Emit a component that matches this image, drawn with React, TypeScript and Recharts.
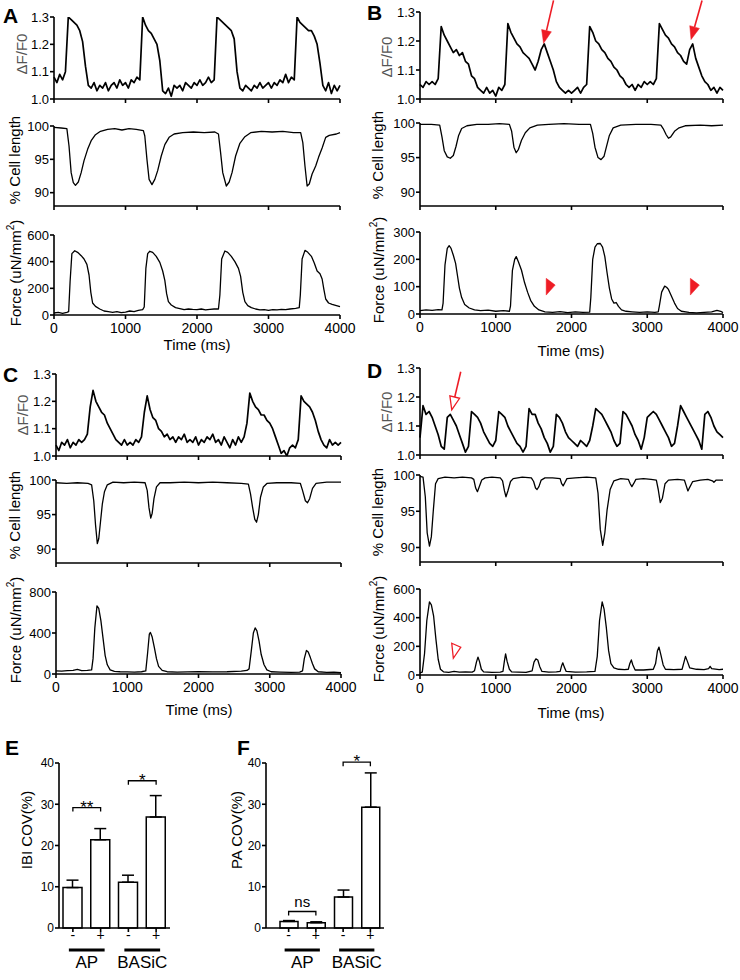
import React from "react";
import {
  Bar,
  BarChart,
  ErrorBar,
  Line,
  LineChart,
  ReferenceDot,
  XAxis,
  YAxis,
} from "recharts";

const SANS = '"Liberation Sans", Arial, Helvetica, sans-serif';
const NARROW = '"Liberation Sans Narrow", "Liberation Sans", Arial, sans-serif';
const RED = "#ee1c25";

const STEP_MS = 40;
const timeTicks = [0, 1000, 2000, 3000, 4000];

const dffA = [
  1.08, 1.06, 1.09, 1.07, 1.1, 1.3, 1.29, 1.28, 1.27, 1.25,
  1.21, 1.12, 1.05, 1.04, 1.06, 1.03, 1.05, 1.04, 1.06, 1.03,
  1.05, 1.06, 1.04, 1.07, 1.05, 1.06, 1.04, 1.07, 1.06, 1.08,
  1.07, 1.3, 1.27, 1.25, 1.24, 1.22, 1.2, 1.14, 1.03, 1.02,
  1.04, 1.01, 1.05, 1.04, 1.05, 1.03, 1.06, 1.05, 1.04, 1.06,
  1.05, 1.07, 1.05, 1.06, 1.08, 1.06, 1.07, 1.3, 1.29, 1.28,
  1.27, 1.26, 1.25, 1.22, 1.1, 1.04, 1.03, 1.05, 1.04, 1.03,
  1.05, 1.04, 1.06, 1.04, 1.05, 1.06, 1.04, 1.06, 1.05, 1.07,
  1.06, 1.09, 1.06, 1.08, 1.07, 1.3, 1.28, 1.27, 1.26, 1.25,
  1.25, 1.23, 1.2, 1.13, 1.05, 1.03, 1.06, 1.02, 1.05, 1.03,
  1.05,
];

const dffB = [
  1.05, 1.04, 1.06, 1.05, 1.06, 1.05, 1.07, 1.25, 1.22, 1.2,
  1.18, 1.16, 1.17, 1.15, 1.16, 1.13, 1.12, 1.08, 1.07, 1.04,
  1.03, 1.02, 1.04, 1.02, 1.03, 1.01, 1.04, 1.03, 1.05, 1.26,
  1.23, 1.21, 1.19, 1.18, 1.16, 1.15, 1.14, 1.12, 1.1, 1.13,
  1.17, 1.19, 1.16, 1.13, 1.1, 1.06, 1.04, 1.03, 1.02, 1.03,
  1.02, 1.03, 1.04, 1.02, 1.04, 1.05, 1.25, 1.23, 1.2, 1.19,
  1.17, 1.16, 1.14, 1.13, 1.11, 1.1, 1.08, 1.07, 1.05, 1.04,
  1.05, 1.03, 1.05, 1.04, 1.06, 1.05, 1.06, 1.05, 1.07, 1.26,
  1.24, 1.22, 1.21, 1.19, 1.18, 1.16, 1.15, 1.13, 1.12, 1.17,
  1.19, 1.14, 1.11, 1.08, 1.06, 1.05, 1.03, 1.04, 1.02, 1.04,
  1.03,
];

const dffC = [
  1.04, 1.02, 1.05, 1.04, 1.06, 1.03, 1.05, 1.04, 1.06, 1.05,
  1.06, 1.08, 1.18, 1.24, 1.2, 1.18, 1.16, 1.15, 1.12, 1.1,
  1.08, 1.06, 1.05, 1.04, 1.06, 1.04, 1.05, 1.04, 1.06, 1.05,
  1.07, 1.16, 1.22, 1.17, 1.14, 1.13, 1.1, 1.09, 1.07, 1.08,
  1.06, 1.07, 1.05, 1.07, 1.06, 1.08, 1.05, 1.06, 1.05, 1.07,
  1.04, 1.06, 1.05, 1.07, 1.06, 1.08, 1.05, 1.06, 1.04, 1.07,
  1.05, 1.03, 1.06, 1.04, 1.07, 1.05, 1.07, 1.12, 1.23, 1.2,
  1.18, 1.17, 1.15, 1.15, 1.13, 1.12, 1.1, 1.07, 1.04, 1.01,
  1.02, 1.0, 1.03, 1.04, 1.03, 1.06, 1.22, 1.2, 1.19, 1.18,
  1.16, 1.13, 1.09, 1.06, 1.04, 1.03, 1.06, 1.04, 1.05, 1.04,
  1.05,
];

const dffD = [
  1.06, 1.17, 1.14, 1.15, 1.13, 1.1, 1.07, 1.03, 1.02, 1.13,
  1.14, 1.12, 1.1, 1.07, 1.04, 1.01, 1.03, 1.15, 1.14, 1.13,
  1.11, 1.08, 1.06, 1.04, 1.03, 1.05, 1.15, 1.14, 1.13, 1.1,
  1.08, 1.06, 1.04, 1.03, 1.01, 1.03, 1.16, 1.14, 1.14, 1.11,
  1.09, 1.06, 1.04, 1.01, 1.03, 1.14, 1.13, 1.11, 1.08, 1.06,
  1.05, 1.04, 1.03, 1.05, 1.04, 1.03, 1.05, 1.1, 1.16, 1.15,
  1.14, 1.12, 1.1, 1.08, 1.05, 1.03, 1.04, 1.15, 1.14, 1.12,
  1.1, 1.07, 1.05, 1.02, 1.06, 1.13, 1.14, 1.15, 1.14, 1.12,
  1.1, 1.08, 1.06, 1.03, 1.04, 1.1, 1.17, 1.15, 1.13, 1.11,
  1.09, 1.07, 1.05, 1.02, 1.14, 1.15, 1.13, 1.1, 1.08, 1.07,
  1.06,
];

// [time ms, % cell length]
const cellA: [number, number][] = [
  [0, 99.8], [100, 99.7], [180, 99.6], [210, 97], [240, 93], [270, 91.5], [300, 91.1],
  [340, 91.6], [380, 93], [420, 94.8], [470, 96.5], [520, 97.8], [580, 98.7], [650, 99.2],
  [750, 99.5], [850, 99.6], [950, 99.4], [1050, 99.6], [1150, 99.5], [1250, 99.3],
  [1270, 98.5], [1300, 95], [1330, 92], [1370, 91.2], [1410, 92], [1450, 93.3], [1500, 95.5],
  [1550, 97.2], [1610, 98.3], [1680, 98.8], [1800, 99], [1950, 99.1], [2100, 99], [2250, 99.1],
  [2300, 98.8], [2330, 96], [2360, 93], [2410, 91], [2450, 91.6], [2490, 93], [2540, 95.5],
  [2600, 97.4], [2670, 98.4], [2750, 99], [2900, 99.2], [3050, 99.1], [3200, 99.2], [3350, 99],
  [3450, 99], [3480, 97.5], [3510, 94], [3540, 91], [3570, 91.3], [3610, 92.8], [3660, 94],
  [3700, 95.3], [3750, 96.7], [3800, 98.3], [3850, 98.6], [3950, 98.8], [4000, 99],
];

const cellB: [number, number][] = [
  [0, 99.8], [150, 99.8], [260, 99.7], [290, 98], [320, 96], [360, 95.1], [400, 94.9],
  [440, 95.3], [475, 96.6], [510, 98.2], [550, 99.2], [620, 99.6], [750, 99.8], [900, 99.8],
  [1050, 99.9], [1180, 99.8], [1210, 98.8], [1240, 96.5], [1270, 95.7], [1300, 96.2],
  [1340, 97.5], [1390, 98.6], [1450, 99.3], [1550, 99.7], [1700, 99.8], [1900, 99.9],
  [2100, 99.8], [2250, 99.8], [2280, 98.5], [2310, 96.5], [2350, 95], [2390, 94.7],
  [2430, 95.2], [2460, 96.5], [2500, 98.2], [2550, 99.3], [2650, 99.7], [2850, 99.8],
  [3050, 99.8], [3180, 99.7], [3210, 99.2], [3250, 98.3], [3280, 97.8], [3310, 98],
  [3360, 98.8], [3420, 99.3], [3500, 99.6], [3700, 99.7], [3850, 99.6], [4000, 99.7],
];

const cellC: [number, number][] = [
  [0, 99.6], [150, 99.5], [300, 99.6], [450, 99.5], [500, 99.3], [530, 97], [555, 93.5],
  [580, 90.8], [600, 91.5], [625, 94], [650, 96.5], [680, 98.3], [720, 99.3], [800, 99.7],
  [950, 99.6], [1100, 99.7], [1250, 99.6], [1280, 98.5], [1305, 96], [1330, 94.5],
  [1350, 95.2], [1375, 97.3], [1410, 99], [1460, 99.6], [1600, 99.6], [1800, 99.7],
  [2000, 99.6], [2200, 99.7], [2400, 99.6], [2600, 99.5], [2700, 99.4], [2730, 98],
  [2760, 96], [2790, 94.3], [2815, 93.9], [2840, 95], [2870, 97.5], [2910, 99], [2960, 99.5],
  [3100, 99.6], [3300, 99.6], [3430, 99.5], [3460, 98.5], [3500, 97], [3530, 96.7],
  [3560, 97.3], [3600, 98.8], [3650, 99.5], [3800, 99.7], [4000, 99.7],
];

const cellD: [number, number][] = [
  [0, 99.8], [40, 99.7], [70, 97], [95, 92], [125, 90.2], [150, 91.5], [175, 95], [205, 98.8],
  [240, 99.5], [330, 99.7], [450, 99.6], [560, 99.7], [680, 99.6], [710, 99.4], [735, 98.2],
  [758, 97.7], [780, 98.3], [815, 99.3], [860, 99.6], [950, 99.7], [1060, 99.6], [1090, 99.2],
  [1115, 97.8], [1135, 97], [1160, 97.8], [1195, 99.1], [1230, 99.5], [1350, 99.7],
  [1470, 99.6], [1500, 99.1], [1525, 98.2], [1545, 98], [1570, 98.4], [1600, 99.3],
  [1650, 99.6], [1750, 99.6], [1850, 99.5], [1870, 98.8], [1890, 98.5], [1910, 98.9],
  [1940, 99.5], [2050, 99.6], [2200, 99.7], [2320, 99.6], [2350, 97.5], [2380, 92.5],
  [2412, 90.3], [2440, 92], [2470, 95.2], [2510, 98], [2560, 99.2], [2650, 99.5],
  [2750, 99.4], [2775, 98.8], [2797, 98.4], [2820, 98.8], [2850, 99.4], [2950, 99.5],
  [3050, 99.4], [3120, 99.3], [3145, 98], [3172, 96.2], [3200, 96.8], [3235, 98.8],
  [3280, 99.3], [3400, 99.4], [3490, 99.3], [3515, 98.5], [3537, 97.8], [3560, 98.3],
  [3600, 99.1], [3700, 99.3], [3800, 99.4], [3860, 99.2], [3880, 99], [3910, 99.3], [4000, 99.3],
];

// [time ms, force uN/mm2]
const forceA: [number, number][] = [
  [0, 15], [60, 20], [120, 12], [180, 20], [205, 25], [225, 250], [250, 460], [290, 482],
  [330, 470], [380, 445], [420, 420], [460, 380], [490, 300], [515, 170], [540, 90], [580, 65],
  [640, 45], [700, 30], [760, 25], [820, 20], [880, 25], [940, 18], [1000, 22], [1060, 30],
  [1120, 25], [1180, 35], [1240, 40], [1262, 60], [1285, 350], [1310, 460], [1340, 478],
  [1380, 470], [1430, 440], [1480, 395], [1520, 330], [1550, 260], [1575, 160], [1600, 100],
  [1640, 75], [1700, 55], [1760, 48], [1820, 40], [1880, 45], [1940, 42], [2000, 40],
  [2060, 45], [2120, 38], [2180, 42], [2240, 45], [2300, 45], [2320, 150], [2345, 420],
  [2390, 480], [2430, 470], [2480, 440], [2530, 400], [2580, 350], [2610, 290], [2640, 170],
  [2670, 100], [2710, 70], [2760, 55], [2820, 45], [2880, 38], [2940, 40], [3000, 35],
  [3060, 40], [3120, 38], [3180, 42], [3240, 40], [3300, 45], [3380, 50], [3430, 55],
  [3445, 150], [3470, 420], [3510, 485], [3550, 470], [3600, 440], [3640, 390], [3680, 330],
  [3720, 310], [3750, 270], [3775, 190], [3800, 120], [3840, 90], [3890, 80], [3950, 70],
  [4000, 62],
];

const forceB: [number, number][] = [
  [0, 12], [80, 15], [160, 13], [240, 16], [290, 15], [305, 40], [330, 180], [360, 240],
  [385, 250], [410, 240], [440, 215], [470, 185], [495, 140], [520, 95], [550, 60], [590, 35],
  [650, 22], [720, 15], [800, 12], [900, 14], [1000, 10], [1100, 12], [1180, 10], [1195, 30],
  [1220, 160], [1250, 200], [1270, 210], [1300, 190], [1340, 160], [1380, 115], [1420, 80],
  [1460, 50], [1510, 28], [1570, 15], [1650, 8], [1750, 6], [1850, 9], [1950, 5], [2050, 8],
  [2150, 6], [2240, 7], [2255, 60], [2280, 200], [2310, 245], [2340, 257], [2380, 258],
  [2410, 245], [2440, 210], [2470, 150], [2500, 95], [2530, 55], [2560, 40], [2590, 42],
  [2620, 28], [2660, 15], [2720, 10], [2800, 8], [2900, 6], [3000, 8], [3100, 6], [3145, 8],
  [3160, 30], [3190, 80], [3230, 102], [3255, 98], [3280, 90], [3320, 65], [3360, 40],
  [3400, 20], [3450, 10], [3550, 6], [3650, 4], [3750, 6], [3850, 8], [3920, 13], [3970, 10],
  [4000, 5],
];

const forceC: [number, number][] = [
  [0, 30], [80, 28], [160, 32], [240, 35], [300, 45], [360, 32], [440, 35], [500, 40],
  [520, 150], [545, 450], [575, 665], [600, 640], [630, 520], [660, 350], [690, 180],
  [720, 90], [760, 40], [820, 25], [900, 22], [1000, 20], [1100, 18], [1200, 22], [1260, 30],
  [1285, 200], [1310, 390], [1325, 405], [1350, 360], [1380, 260], [1410, 150], [1440, 75],
  [1490, 35], [1560, 22], [1700, 18], [1850, 20], [2000, 22], [2200, 20], [2400, 22],
  [2600, 28], [2680, 35], [2710, 50], [2740, 220], [2770, 400], [2795, 450], [2820, 420],
  [2850, 320], [2880, 190], [2920, 90], [2960, 40], [3020, 22], [3150, 18], [3300, 15],
  [3420, 18], [3460, 30], [3485, 150], [3515, 230], [3540, 215], [3570, 160], [3600, 100],
  [3630, 50], [3680, 22], [3800, 15], [3900, 18], [4000, 12],
];

const forceD: [number, number][] = [
  [0, 15], [30, 20], [60, 150], [90, 380], [125, 510], [150, 490], [180, 410], [210, 250],
  [240, 110], [270, 40], [310, 22], [380, 18], [450, 25], [520, 20], [600, 22], [690, 20],
  [720, 30], [745, 90], [765, 125], [785, 95], [810, 40], [840, 22], [950, 18], [1060, 20],
  [1095, 25], [1115, 100], [1130, 148], [1150, 95], [1180, 40], [1210, 22], [1300, 20],
  [1400, 18], [1480, 28], [1505, 90], [1530, 112], [1555, 105], [1580, 60], [1610, 25],
  [1700, 20], [1800, 22], [1850, 25], [1870, 65], [1885, 85], [1905, 55], [1930, 25],
  [2050, 20], [2200, 22], [2310, 25], [2340, 130], [2370, 380], [2405, 510], [2430, 460],
  [2460, 330], [2490, 170], [2520, 80], [2560, 50], [2620, 40], [2700, 38], [2750, 40],
  [2770, 80], [2790, 105], [2810, 70], [2840, 35], [2950, 35], [3080, 40], [3110, 80],
  [3135, 170], [3155, 195], [3180, 140], [3210, 70], [3240, 40], [3350, 38], [3460, 40],
  [3485, 90], [3505, 130], [3530, 95], [3560, 50], [3650, 40], [3750, 38], [3810, 45],
  [3830, 60], [3850, 45], [3950, 38], [4000, 40],
];

// bar panels E and F
const barCats = ["AP -", "AP +", "BASiC -", "BASiC +"];
const ibiMean = [9.8, 21.4, 11.1, 26.9];
const ibiSem = [1.8, 2.7, 1.7, 5.2];
const paMean = [1.6, 1.3, 7.5, 29.3];
const paSem = [0.2, 0.2, 1.7, 8.3];
const covTicks = [0, 10, 20, 30, 40];

const fromSamples = (vals: number[]) => vals.map((v, i) => ({ t: i * STEP_MS, v }));
const fromPairs = (pairs: [number, number][]) => pairs.map(([t, v]) => ({ t, v }));

const AXIS = { stroke: "#000", strokeWidth: 1.6 };
const Y_W = 44;
const TOP = 16;
const RIGHT = 24;

type Box = { x: number; y: number; w: number; h: number };

function Trace({
  box,
  data,
  domain,
  ticks,
  digits = 0,
  timeAxis = false,
  lineWidth = 1.3,
  children,
}: {
  box: Box;
  data: { t: number; v: number }[];
  domain: [number, number];
  ticks: number[];
  digits?: number;
  timeAxis?: boolean;
  lineWidth?: number;
  children?: React.ReactNode;
}) {
  const xh = timeAxis ? 26 : 12;
  return (
    <div style={{ position: "absolute", left: box.x - Y_W, top: box.y - TOP }}>
      <LineChart
        width={Y_W + box.w + RIGHT}
        height={TOP + box.h + xh}
        data={data}
        margin={{ top: TOP, right: RIGHT, bottom: 0, left: 0 }}
      >
        <XAxis
          dataKey="t"
          type="number"
          domain={[0, 4000]}
          ticks={timeTicks}
          interval={0}
          height={xh}
          axisLine={AXIS}
          tickLine={AXIS}
          tickSize={4}
          tickMargin={4}
          tick={{ fill: "#000", fontSize: 14, fontFamily: SANS }}
          tickFormatter={(v) => (timeAxis ? String(v) : "")}
        />
        <YAxis
          type="number"
          domain={domain}
          ticks={ticks}
          interval={0}
          allowDataOverflow
          width={Y_W}
          axisLine={AXIS}
          tickLine={AXIS}
          tickSize={4}
          tickMargin={1}
          tick={{ fill: "#000", fontSize: 13, fontFamily: NARROW }}
          tickFormatter={(v) => Number(v).toFixed(digits)}
        />
        <Line
          dataKey="v"
          type="linear"
          stroke="#000"
          strokeWidth={lineWidth}
          strokeLinejoin="round"
          dot={false}
          isAnimationActive={false}
        />
        {children}
      </LineChart>
    </div>
  );
}

// arrow whose tip sits on the data point, tail offset by (dx, dy) pixels
function arrowShape(dx: number, dy: number, hollow: boolean) {
  return (p: any) => {
    const { cx, cy } = p;
    const len = Math.hypot(dx, dy);
    const ux = dx / len;
    const uy = dy / len;
    const bx = cx + ux * 13;
    const by = cy + uy * 13;
    const nx = -uy * 5;
    const ny = ux * 5;
    return (
      <g>
        <line x1={cx + dx} y1={cy + dy} x2={bx} y2={by} stroke={RED} strokeWidth={1.6} />
        <polygon
          points={`${cx},${cy} ${bx + nx},${by + ny} ${bx - nx},${by - ny}`}
          fill={hollow ? "#fff" : RED}
          stroke={RED}
          strokeWidth={hollow ? 1.3 : 0.5}
        />
      </g>
    );
  };
}

function flagShape(hollow: boolean) {
  return (p: any) => {
    const { cx, cy } = p;
    const pts = hollow
      ? `${cx},${cy - 7.5} ${cx + 9},${cy - 3.5} ${cx + 1.6},${cy + 7.5}`
      : `${cx},${cy - 8.3} ${cx + 9},${cy - 1.6} ${cx},${cy + 8.4}`;
    return (
      <polygon
        points={pts}
        fill={hollow ? "#fff" : RED}
        stroke={RED}
        strokeWidth={hollow ? 1.3 : 0.5}
      />
    );
  };
}

function bracketShape(span: number, label: string) {
  return (p: any) => {
    const { cx, cy } = p;
    const ns = label === "ns";
    return (
      <g>
        <path
          d={`M${cx},${cy + 4} V${cy} H${cx + span} V${cy + 4}`}
          fill="none"
          stroke="#000"
          strokeWidth={1.3}
        />
        <text
          x={cx + span / 2}
          y={ns ? cy - 5 : cy + 5}
          textAnchor="middle"
          fontSize={ns ? 15 : 17}
          fontFamily={SANS}
          fill="#000"
        >
          {label}
        </text>
      </g>
    );
  };
}

function GroupTick(props: any) {
  const { x, y, payload, index, band } = props;
  const [group, sign] = String(payload.value).split(" ");
  return (
    <g>
      <text x={x} y={y + 7} textAnchor="middle" fontSize={14} fontFamily={SANS} fill="#000" stroke="none">
        {sign}
      </text>
      {index % 2 === 0 && (
        <>
          <line x1={x - 4} x2={x + band + 4} y1={y + 17} y2={y + 17} stroke="#000" strokeWidth={3} />
          <text
            x={x + band / 2}
            y={y + 35}
            textAnchor="middle"
            fontSize={17}
            fontFamily={NARROW}
            fill="#000"
            stroke="none"
          >
            {group}
          </text>
        </>
      )}
    </g>
  );
}

function CovBars({
  box,
  mean,
  sem,
  padLeft,
  barSize,
  brackets,
}: {
  box: Box;
  mean: number[];
  sem: number[];
  padLeft: number;
  barSize: number;
  brackets: { from: number; level: number; label: string }[];
}) {
  const data = barCats.map((cat, i) => ({ cat, v: mean[i], err: [0, sem[i]] }));
  const band = (box.w - padLeft) / barCats.length;
  return (
    <div style={{ position: "absolute", left: box.x - Y_W, top: box.y - TOP }}>
      <BarChart
        width={Y_W + box.w + RIGHT}
        height={TOP + box.h + 52}
        data={data}
        margin={{ top: TOP, right: RIGHT, bottom: 0, left: 0 }}
        barCategoryGap={0}
      >
        <XAxis
          dataKey="cat"
          height={52}
          interval={0}
          padding={{ left: padLeft, right: 0 }}
          axisLine={AXIS}
          tickLine={AXIS}
          tickSize={4}
          tickMargin={1}
          tick={(p: any) => <GroupTick {...p} band={band} />}
        />
        <YAxis
          type="number"
          domain={[0, 40]}
          ticks={covTicks}
          interval={0}
          width={Y_W}
          axisLine={AXIS}
          tickLine={AXIS}
          tickSize={4}
          tickMargin={1}
          tick={{ fill: "#000", fontSize: 12, fontFamily: NARROW }}
        />
        <Bar
          dataKey="v"
          fill="#fff"
          stroke="#000"
          strokeWidth={1.5}
          barSize={barSize}
          isAnimationActive={false}
        >
          <ErrorBar dataKey="err" width={6} stroke="#000" strokeWidth={1.5} direction="y" />
        </Bar>
        {brackets.map((b) => (
          <ReferenceDot
            key={b.label + b.from}
            x={barCats[b.from]}
            y={b.level}
            ifOverflow="visible"
            shape={bracketShape(band, b.label)}
          />
        ))}
      </BarChart>
    </div>
  );
}

function VText({
  x,
  y,
  children,
  color = "#000",
  size = 15,
}: {
  x: number;
  y: number;
  children: React.ReactNode;
  color?: string;
  size?: number;
}) {
  return (
    <text
      transform={`translate(${x},${y}) rotate(-90)`}
      textAnchor="middle"
      dominantBaseline="central"
      fill={color}
      fontSize={size}
      fontFamily={NARROW}
    >
      {children}
    </text>
  );
}

const forceTitle = (
  <>
    Force (uN/mm
    <tspan dy={-5} fontSize={10}>
      2
    </tspan>
    <tspan dy={5}>)</tspan>
  </>
);

const DFF = [1, 1.1, 1.2, 1.3];

export default function App() {
  return (
    <div
      style={{
        position: "absolute",
        left: 0,
        top: 0,
        width: 740,
        height: 980,
        background: "#fff",
        fontFamily: SANS,
      }}
    >
      {/* A */}
      <Trace box={{ x: 54, y: 17, w: 286, h: 82 }} data={fromSamples(dffA)} domain={[1, 1.3]} ticks={DFF} digits={1} lineWidth={1.7} />
      <Trace box={{ x: 54, y: 126, w: 286, h: 80 }} data={fromPairs(cellA)} domain={[88, 100]} ticks={[90, 95, 100]} />
      <Trace box={{ x: 54, y: 235, w: 286, h: 80 }} data={fromPairs(forceA)} domain={[0, 600]} ticks={[0, 200, 400, 600]} timeAxis />

      {/* B */}
      <Trace box={{ x: 420, y: 12, w: 303, h: 87 }} data={fromSamples(dffB)} domain={[1, 1.3]} ticks={DFF} digits={1} lineWidth={1.7}>
        <ReferenceDot x={1631} y={1.192} ifOverflow="visible" shape={arrowShape(10, -43, false)} />
        <ReferenceDot x={3578} y={1.205} ifOverflow="visible" shape={arrowShape(11, -39, false)} />
      </Trace>
      <Trace box={{ x: 420, y: 123, w: 303, h: 83 }} data={fromPairs(cellB)} domain={[88, 100]} ticks={[90, 95, 100]} />
      <Trace box={{ x: 420, y: 232, w: 303, h: 82 }} data={fromPairs(forceB)} domain={[0, 300]} ticks={[0, 100, 200, 300]} timeAxis>
        <ReferenceDot x={1666} y={100} ifOverflow="visible" shape={flagShape(false)} />
        <ReferenceDot x={3569} y={100} ifOverflow="visible" shape={flagShape(false)} />
      </Trace>

      {/* C */}
      <Trace box={{ x: 56, y: 374, w: 285, h: 82 }} data={fromSamples(dffC)} domain={[1, 1.3]} ticks={DFF} digits={1} lineWidth={1.7} />
      <Trace box={{ x: 56, y: 480, w: 285, h: 83 }} data={fromPairs(cellC)} domain={[88, 100]} ticks={[90, 95, 100]} />
      <Trace box={{ x: 56, y: 592, w: 285, h: 82 }} data={fromPairs(forceC)} domain={[0, 800]} ticks={[0, 400, 800]} timeAxis />

      {/* D */}
      <Trace box={{ x: 420, y: 368, w: 303, h: 87 }} data={fromSamples(dffD)} domain={[1, 1.3]} ticks={DFF} digits={1} lineWidth={1.7}>
        <ReferenceDot x={419} y={1.156} ifOverflow="visible" shape={arrowShape(9, -38, true)} />
      </Trace>
      <Trace box={{ x: 420, y: 475, w: 303, h: 87 }} data={fromPairs(cellD)} domain={[88, 100]} ticks={[90, 95, 100]} />
      <Trace box={{ x: 420, y: 589, w: 303, h: 86 }} data={fromPairs(forceD)} domain={[0, 600]} ticks={[0, 200, 400, 600]} timeAxis>
        <ReferenceDot x={419} y={169} ifOverflow="visible" shape={flagShape(true)} />
      </Trace>

      {/* E, F */}
      <CovBars
        box={{ x: 59, y: 763, w: 111, h: 165 }}
        mean={ibiMean}
        sem={ibiSem}
        padLeft={0}
        barSize={19}
        brackets={[
          { from: 0, level: 29.2, label: "**" },
          { from: 2, level: 35.7, label: "*" },
        ]}
      />
      <CovBars
        box={{ x: 266, y: 763, w: 118, h: 165 }}
        mean={paMean}
        sem={paSem}
        padLeft={9}
        barSize={18}
        brackets={[
          { from: 0, level: 4, label: "ns" },
          { from: 2, level: 40.2, label: "*" },
        ]}
      />

      <svg
        width={740}
        height={980}
        style={{ position: "absolute", left: 0, top: 0, pointerEvents: "none" }}
      >
        <g fontFamily={SANS} fontWeight="bold" fontSize={21} fill="#000">
          <text x={3} y={23}>A</text>
          <text x={367} y={20}>B</text>
          <text x={3} y={382}>C</text>
          <text x={367} y={378}>D</text>
          <text x={5} y={755}>E</text>
          <text x={237} y={755}>F</text>
        </g>

        <VText x={21} y={54} color="#555">ΔF/F0</VText>
        <VText x={14} y={160}>% Cell length</VText>
        <VText x={15} y={273}>{forceTitle}</VText>

        <VText x={386} y={57} color="#555">ΔF/F0</VText>
        <VText x={377} y={155}>% Cell length</VText>
        <VText x={378} y={270}>{forceTitle}</VText>

        <VText x={22} y={415} color="#555">ΔF/F0</VText>
        <VText x={14} y={515}>% Cell length</VText>
        <VText x={15} y={630}>{forceTitle}</VText>

        <VText x={386} y={412} color="#555">ΔF/F0</VText>
        <VText x={377} y={512}>% Cell length</VText>
        <VText x={378} y={629}>{forceTitle}</VText>

        <VText x={26} y={830}>IBI COV(%)</VText>
        <VText x={236} y={830}>PA COV(%)</VText>

        <g fontFamily={SANS} fontSize={15} fill="#000" textAnchor="middle">
          <text x={197} y={350}>Time (ms)</text>
          <text x={571} y={356}>Time (ms)</text>
          <text x={199} y={715}>Time (ms)</text>
          <text x={571} y={718}>Time (ms)</text>
        </g>
      </svg>
    </div>
  );
}
